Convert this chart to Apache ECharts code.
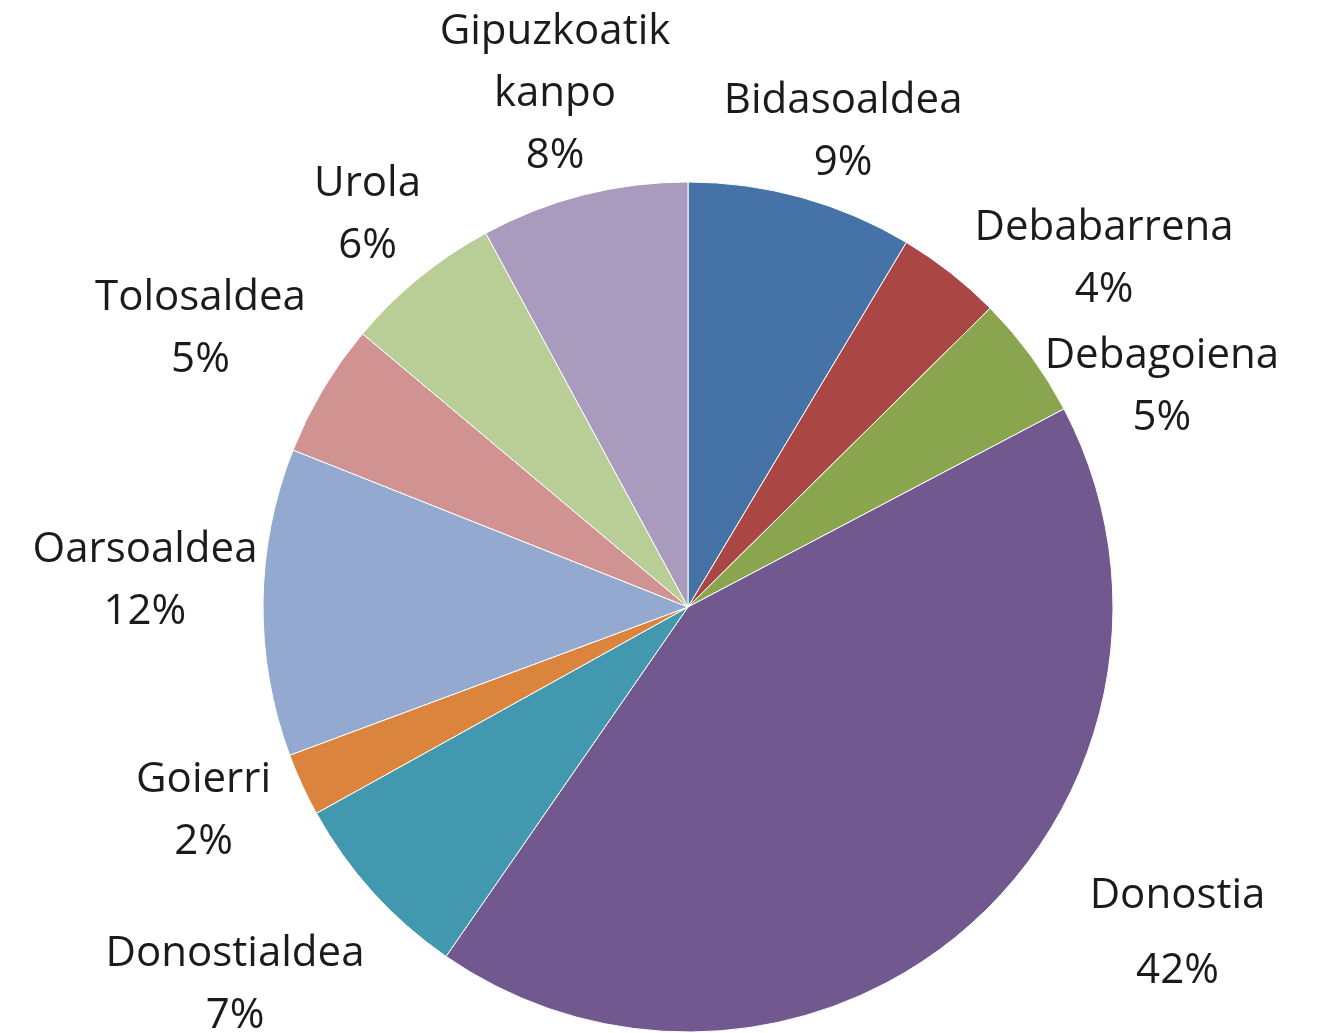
<!DOCTYPE html>
<html>
<head>
<meta charset="utf-8">
<script src="https://cdn.jsdelivr.net/npm/echarts@6/dist/echarts.min.js"></script>
<style>
html, body { margin: 0; padding: 0; background: #fff; }
#main { width: 1322px; height: 1033px; }
</style>
</head>
<body>
<div id="main"></div>
<script>
// eskualdeak, erlojuaren norabidean goitik hasita
const regions = ['Bidasoaldea', 'Debabarrena', 'Debagoiena', 'Donostia', 'Donostialdea',
  'Goierri', 'Oarsoaldea', 'Tolosaldea', 'Urola', 'Gipuzkoatik\nkanpo']
const shares = [8.6, 4.0, 4.7, 42.4, 7.3, 2.4, 11.7, 5.1, 6.0, 7.9]
const colors = ['#4572A7', '#AA4643', '#89A54E', '#71588F', '#4198AF',
  '#DB843D', '#93A9CF', '#D19392', '#B9CD96', '#A99BBD']

const cx = 688
const cy = 607
const R = 425
// labels that Excel moved by hand
const nudge = {
  Bidasoaldea: [20, 14],
  Debabarrena: [79, 81],
  Debagoiena: [30, 105],
  Donostia: [140, -68],
  Donostialdea: [-41, 5],
  Goierri: [-23, -8],
  Oarsoaldea: [-5, -20],
  Tolosaldea: [-22, 0],
  Urola: [-5, -5],
  'Gipuzkoatik\nkanpo': [-2, 4]
}

const total = shares.reduce((a, b) => a + b, 0)
const midAngles = []
let acc = 0
shares.forEach(v => {
  midAngles.push((acc + v / 2) / total * Math.PI * 2)
  acc += v
})

const myChart = echarts.init(document.getElementById('main'))
const option = {
  animation: false,
  color: colors,
  textStyle: { fontFamily: 'Open Sans' },
  series: [
    {
      type: 'pie',
      center: [cx, cy],
      radius: R,
      startAngle: 90,
      clockwise: true,
      avoidLabelOverlap: false,
      itemStyle: { borderColor: '#fff', borderWidth: 1 },
      label: {
        show: true,
        position: 'outside',
        color: '#1b1b1b',
        formatter: p => {
          const st = p.name === 'Donostia' ? 'd' : 'n'
          return p.name.split('\n').map(s => `{${st}|${s}}`).join('\n') +
            `\n{${st}|${Math.round(p.percent)}%}`
        },
        rich: {
          n: { fontFamily: 'Open Sans', fontSize: 42, lineHeight: 62, color: '#1b1b1b', align: 'center' },
          d: { fontFamily: 'Open Sans', fontSize: 42, lineHeight: 75, color: '#1b1b1b', align: 'center' }
        }
      },
      labelLine: { show: false, length: 0, length2: 0 },
      labelLayout: params => {
        const i = params.dataIndex
        const a = midAngles[i]
        const s = Math.sin(a)
        const c = Math.cos(a)
        const w = params.labelRect.width
        const h = params.labelRect.height
        const d = R + Math.abs(s) * w / 2 + Math.abs(c) * h / 2
        const off = nudge[regions[i]] || [0, 0]
        return {
          x: cx + d * s + off[0],
          y: cy - d * c + off[1],
          align: 'center',
          verticalAlign: 'middle'
        }
      },
      data: regions.map((name, i) => ({ name: name, value: shares[i] }))
    }
  ]
}
myChart.setOption(option)
</script>
</body>
</html>
